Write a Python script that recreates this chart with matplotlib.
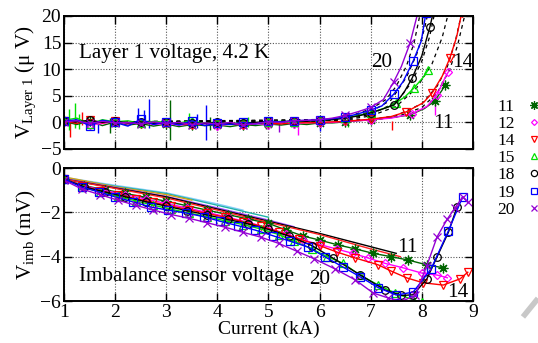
import numpy as np
import matplotlib
matplotlib.use("Agg")
import matplotlib.pyplot as plt
from matplotlib.lines import Line2D

plt.rcParams["font.family"] = ["Liberation Serif", "DejaVu Serif"]
plt.rcParams["mathtext.fontset"] = "custom"
plt.rcParams["mathtext.rm"] = "Liberation Serif"
plt.rcParams["mathtext.it"] = "Liberation Serif:italic"

# ---- series styles (legend order) ----
names = ["11", "12", "14", "15", "18", "19", "20"]
colors = ["#006400", "#ff00ff", "#ff0000", "#00e000", "#000000", "#0000ff", "#9400d3"]
markers = [(8, 2, 0), "D", "v", "^", "o", "s", "x"]
msizes = [7, 4, 5.5, 5.5, 5.5, 6, 5.5]

# ---- top panel: layer 1 voltage (uV) ----
i_flat = [1.0, 1.25, 1.5, 1.75, 2.0, 2.25, 2.5, 2.75, 3.0, 3.25, 3.5,
          3.75, 4.0, 4.25, 4.5, 4.75, 5.0, 5.25, 5.5, 5.75, 6.0]
v_flat = {
    "11": [0.2, -0.4, 0.3, -0.6, 0.1, -0.5, -0.2, -0.7, -0.3, -0.8, -0.4,
           -0.6, -0.5, -0.8, -0.4, -0.6, -0.3, -0.5, -0.2, -0.4, -0.1],
    "12": [0.0, 0.3, -0.5, -0.2, 0.2, -0.3, 0.1, -0.4, -0.2, -0.5, -0.3,
           -0.2, -0.6, -0.3, -0.5, -0.2, -0.4, -0.1, -0.3, 0.0, -0.1],
    "14": [0.3, -0.2, 0.5, -0.1, 0.2, 0.0, -0.3, 0.1, -0.2, -0.1, -0.4,
           -0.2, -0.3, -0.1, -0.4, -0.2, -0.1, -0.3, 0.0, -0.1, 0.0],
    "15": [0.4, 0.8, -0.3, 0.5, 0.1, 0.3, -0.2, 0.2, 0.0, -0.1, 0.3,
           -0.2, 0.1, -0.3, 0.0, -0.2, 0.1, 0.2, 0.0, 0.3, 0.4],
    "18": [0.3, 0.1, 0.4, 0.0, 0.2, -0.1, 0.1, -0.2, 0.0, -0.3, -0.1,
           -0.2, 0.0, -0.3, -0.1, 0.0, 0.2, 0.1, 0.3, 0.2, 0.4],
    "19": [0.2, 0.5, -0.6, 0.4, 0.0, -0.7, 0.6, -0.4, 0.1, -0.5, 0.3,
           -0.6, -0.2, -0.4, 0.0, -0.3, 0.2, 0.1, 0.3, 0.4, 0.5],
    "20": [0.1, 0.3, -0.2, 0.2, -0.1, 0.0, -0.3, 0.1, -0.2, 0.0, -0.4,
           -0.1, -0.3, 0.0, -0.5, -0.2, 0.1, 0.0, 0.3, 0.4, 0.5],
}
i_rise = {
    "11": [6.25, 6.5, 6.75, 7.0, 7.4, 7.77, 8.05, 8.25, 8.4, 8.45],
    "12": [6.25, 6.5, 6.75, 7.0, 7.4, 7.8, 8.1, 8.3, 8.46, 8.52],
    "14": [6.25, 6.5, 6.75, 7.0, 7.4, 7.7, 8.03, 8.2, 8.4, 8.55, 8.68, 8.78],
    "15": [6.25, 6.5, 6.75, 7.0, 7.34, 7.5, 7.67, 7.85, 8.03, 8.12],
    "18": [6.25, 6.5, 6.75, 7.0, 7.2, 7.46, 7.65, 7.81, 8.0, 8.16, 8.22],
    "19": [6.25, 6.5, 6.75, 7.0, 7.22, 7.45, 7.63, 7.83, 7.99, 8.08],
    "20": [6.25, 6.5, 6.75, 7.0, 7.25, 7.45, 7.6, 7.77, 7.92],
}
v_rise = {
    "11": [-0.1, 0.1, 0.3, 0.5, 0.9, 1.4, 2.6, 4.0, 6.1, 7.0],
    "12": [0.0, 0.2, 0.3, 0.5, 0.8, 1.6, 3.0, 5.2, 8.5, 9.5],
    "14": [0.1, 0.2, 0.4, 0.6, 1.1, 2.0, 3.7, 5.5, 8.7, 12.1, 16.0, 20.5],
    "15": [0.6, 0.9, 1.3, 1.8, 2.9, 3.7, 4.8, 6.5, 8.5, 9.8],
    "18": [0.5, 0.8, 1.2, 1.8, 2.4, 3.3, 5.6, 8.3, 12.5, 18.0, 20.5],
    "19": [0.7, 1.0, 1.6, 2.3, 3.1, 5.3, 7.6, 11.5, 15.3, 20.5],
    "20": [0.8, 1.3, 2.0, 2.8, 4.3, 7.6, 10.5, 14.9, 20.5],
}
# voltage spikes: (current, low, high)
spikes = {
    "15": [(1.1, -1.5, 2.5), (1.22, -1.0, 3.7), (1.3, -1.2, 1.5), (3.45, -1.0, 1.8),
           (4.6, -0.8, 1.0), (6.55, -0.8, 1.5)],
    "14": [(1.12, -2.8, 0.3), (1.35, -0.5, 2.0), (7.42, -1.5, 0.2)],
    "19": [(1.67, -2.0, 0.3), (2.45, -0.5, 2.7), (2.57, -0.3, 2.4), (2.66, -1.0, 4.4),
           (3.6, -1.0, 1.5), (3.78, -3.3, 3.3), (6.0, -1.6, 0.4)],
    "11": [(1.9, -2.0, 0.8), (3.07, -3.3, 4.2), (3.85, -1.5, 1.0), (4.95, -1.2, 0.6)],
    "12": [(5.58, -2.3, 0.0), (8.26, 1.3, 3.5)],
    "20": [(5.2, -1.8, 0.0)],
}
# dashed fits
fit_i = [
    [1.0, 6.0, 6.5, 7.0, 7.3, 7.5, 7.7, 7.85, 7.97],
    [1.0, 6.0, 6.5, 7.0, 7.4, 7.7, 7.9, 8.05, 8.12],
    [1.0, 6.5, 7.0, 7.5, 7.8, 8.0, 8.15, 8.25],
    [1.0, 6.5, 7.0, 7.5, 7.9, 8.2, 8.4, 8.52],
    [1.0, 7.0, 7.5, 8.0, 8.3, 8.5, 8.65, 8.78],
    [1.0, 7.0, 7.5, 8.0, 8.3, 8.55, 8.7, 8.85],
]
fit_v = [
    [0.0, 0.2, 0.9, 2.5, 4.3, 6.8, 10.6, 15.0, 20.5],
    [0.0, 0.2, 0.8, 2.0, 4.2, 8.5, 12.8, 17.5, 20.5],
    [0.0, 0.6, 1.5, 3.8, 7.5, 11.5, 16.0, 20.5],
    [0.0, 0.5, 1.2, 3.0, 6.5, 11.0, 16.0, 20.5],
    [0.0, 0.5, 1.3, 3.5, 6.8, 10.5, 15.0, 20.5],
    [0.0, 0.4, 1.0, 2.8, 5.5, 10.0, 14.5, 20.5],
]

# ---- bottom panel: imbalance voltage (mV) ----
i_imb = {
    "11": [1.0, 1.4, 1.8, 2.2, 2.6, 3.0, 3.4, 3.8, 4.2, 4.6, 5.0, 5.35, 5.68,
           6.0, 6.36, 6.7, 7.05, 7.4, 7.73, 8.1, 8.42],
    "12": [1.0, 1.4, 1.8, 2.2, 2.6, 3.0, 3.4, 3.8, 4.2, 4.6, 5.0, 5.35, 5.68,
           6.0, 6.34, 6.65, 6.95, 7.28, 7.63, 8.0, 8.3, 8.5],
    "14": [1.0, 1.35, 1.7, 2.05, 2.4, 2.75, 3.1, 3.45, 3.8, 4.15, 4.5, 4.85,
           5.2, 5.6, 6.0, 6.35, 6.7, 7.15, 7.4, 7.71, 8.03, 8.42, 8.75, 8.9],
    "15": [1.0, 1.35, 1.7, 2.05, 2.4, 2.75, 3.1, 3.45, 3.8, 4.15, 4.5, 4.85,
           5.2, 5.5, 5.85, 6.15, 6.46, 6.79, 7.15, 7.48, 7.83, 8.0],
    "18": [1.0, 1.4, 1.8, 2.2, 2.6, 3.0, 3.4, 3.8, 4.2, 4.6, 5.0, 5.4, 5.85,
           6.26, 6.8, 7.28, 7.6, 7.83, 8.1, 8.3, 8.52, 8.69],
    "19": [1.0, 1.35, 1.68, 2.0, 2.35, 2.7, 3.03, 3.39, 3.74, 4.05, 4.4, 4.74,
           5.08, 5.42, 5.77, 6.1, 6.46, 6.79, 7.15, 7.5, 7.83, 8.18, 8.52, 8.8],
    "20": [1.0, 1.35, 1.7, 2.05, 2.4, 2.75, 3.1, 3.45, 3.8, 4.15, 4.5, 4.85,
           5.2, 5.55, 5.9, 6.3, 6.7, 7.05, 7.34, 7.6, 7.87, 8.1, 8.3, 8.5,
           8.65, 8.8, 8.9],
}
v_imb = {
    "11": [-0.5, -0.8, -0.98, -1.15, -1.32, -1.5, -1.7, -1.9, -2.1, -2.3, -2.5,
           -2.8, -3.07, -3.25, -3.47, -3.65, -3.85, -4.0, -4.15, -4.37, -4.5],
    "12": [-0.5, -0.82, -1.02, -1.2, -1.4, -1.6, -1.8, -2.0, -2.22, -2.45, -2.7,
           -2.98, -3.25, -3.45, -3.66, -3.85, -4.06, -4.3, -4.5, -4.74, -4.83, -4.95],
    "14": [-0.5, -0.8, -1.02, -1.2, -1.38, -1.55, -1.72, -1.88, -2.05, -2.22,
           -2.42, -2.62, -2.88, -3.2, -3.5, -3.8, -4.06, -4.37, -4.65, -4.96,
           -5.18, -5.28, -5.0, -4.7],
    "15": [-0.5, -0.85, -1.08, -1.28, -1.48, -1.68, -1.86, -2.03, -2.2, -2.38,
           -2.55, -2.75, -3.0, -3.3, -3.65, -4.0, -4.3, -4.83, -5.28, -5.64,
           -5.95, -6.05],
    "18": [-0.5, -0.86, -1.08, -1.3, -1.52, -1.72, -1.92, -2.12, -2.32, -2.52,
           -2.77, -3.07, -3.5, -4.06, -4.83, -5.5, -5.75, -5.72, -5.0, -4.0,
           -2.9, -1.76],
    "19": [-0.5, -0.86, -1.08, -1.3, -1.53, -1.76, -1.9, -2.03, -2.2, -2.4,
           -2.6, -2.8, -3.05, -3.3, -3.56, -4.0, -4.47, -4.9, -5.4, -5.73,
           -5.6, -4.56, -2.84, -1.3],
    "20": [-0.55, -0.95, -1.2, -1.45, -1.68, -1.9, -2.1, -2.27, -2.47, -2.67,
           -2.9, -3.12, -3.4, -3.75, -4.1, -4.55, -5.05, -5.64, -5.86, -6.02,
           -5.75, -4.4, -3.1, -2.3, -1.8, -1.3, -1.55],
}
# extra channels drawn without markers
extra_colors = ["#87cefa", "#20b2aa", "#d4a017", "#a040ff", "#000000", "#ff2020"]
extra_i = [
    [1.0, 2.0, 3.0, 4.0, 4.5],
    [1.0, 2.0, 3.0, 4.0, 5.0],
    [1.0, 2.0, 3.0, 3.5],
    [1.0, 2.0, 3.0, 4.0, 5.0, 5.5],
    [1.0, 2.0, 3.0, 4.0, 5.0, 6.0, 7.0, 7.5],
    [1.0, 2.0, 3.0, 4.0, 5.0, 6.0, 7.0, 7.58],
]
extra_v = [
    [-0.42, -0.78, -1.12, -1.62, -1.9],
    [-0.45, -0.82, -1.15, -1.68, -2.22],
    [-0.4, -0.85, -1.2, -1.45],
    [-0.48, -0.88, -1.28, -1.8, -2.35, -2.65],
    [-0.5, -0.9, -1.3, -1.85, -2.4, -2.95, -3.55, -3.85],
    [-0.5, -0.92, -1.35, -1.9, -2.45, -3.0, -3.65, -4.0],
]

fig = plt.figure(figsize=(5.38, 3.43), dpi=100)
ax1 = fig.add_axes([0.119, 0.5656, 0.76, 0.3878])
ax2 = fig.add_axes([0.119, 0.1224, 0.76, 0.3878])

fs = 14
fs_note = 15.2
for ax in (ax1, ax2):
    ax.set_xlim(1, 9)
    ax.set_xticks(range(1, 10))
    ax.grid(True, color="#555555", linestyle=(0, (1, 1.5)), linewidth=0.8)
    ax.tick_params(direction="in", length=6, width=1, top=True, right=True,
                   labelsize=fs, pad=2)
    for s in ax.spines.values():
        s.set_linewidth(1.4)

# top panel
for k, n in enumerate(names):
    for (xi, lo, hi) in spikes.get(n, []):
        ax1.vlines(xi, lo, hi, color=colors[k], lw=1.0)
for xs, ys in zip(fit_i, fit_v):
    ax1.plot(xs, ys, color="black", lw=0.9, ls=(0, (3, 3)))
for k, n in enumerate(names):
    xs = i_flat + i_rise[n]
    ys = v_flat[n] + v_rise[n]
    ax1.plot(xs, ys, color=colors[k], lw=1.0, marker=markers[k], ms=msizes[k],
             mfc="none", mew=0.9, markevery=2)
ax1.set_ylim(-5, 20)
ax1.set_yticks([-5, 0, 5, 10, 15, 20])
ax1.tick_params(labelbottom=False)
ax1.text(1.3, 12.9, "Layer 1 voltage, 4.2 K", fontsize=fs_note, va="center")
ax1.text(7.22, 11.2, "20", fontsize=fs_note, va="center", ha="center")
ax1.text(8.81, 11.2, "14", fontsize=fs_note, va="center", ha="center")
ax1.text(8.42, -0.2, "11", fontsize=fs_note, va="center", ha="center")
ax1.set_ylabel(r"V$_{\mathrm{Layer\ 1}}$ ($\mathrm{\mu}$ V)", fontsize=fs_note, labelpad=2)

# bottom panel
for c, xs, ys in zip(extra_colors, extra_i, extra_v):
    ax2.plot(xs, ys, color=c, lw=1.0)
for k, n in enumerate(names):
    ax2.plot(i_imb[n], v_imb[n], color=colors[k], lw=1.0, marker=markers[k],
             ms=msizes[k], mfc="none", mew=0.9)
ax2.set_ylim(-6, 0)
ax2.set_yticks([-6, -4, -2, 0])
ax2.text(1.3, -4.9, "Imbalance sensor voltage", fontsize=fs_note, va="center")
ax2.text(7.71, -3.6, "11", fontsize=fs_note, va="center", ha="center")
ax2.text(6.0, -5.05, "20", fontsize=fs_note, va="center", ha="center")
ax2.text(8.71, -5.6, "14", fontsize=fs_note, va="center", ha="center")
ax2.set_ylabel(r"V$_{\mathrm{imb}}$ (mV)", fontsize=fs_note, labelpad=2)
ax2.set_xlabel("Current (kA)", fontsize=fs, labelpad=0)

# legend: label then marker
handles = [Line2D([], [], ls="", color=colors[k], marker=markers[k], ms=msizes[k] - 1,
                  mfc="none", mew=0.9) for k in range(len(names))]
fig.legend(handles, names, loc="upper left", bbox_to_anchor=(0.908, 0.738),
           frameon=False, markerfirst=False, fontsize=12.5, labelspacing=0.06,
           handlelength=1.0, handletextpad=0.6, borderpad=0)

# grey stroke in the corner
fig.add_artist(Line2D([0.972, 1.0], [0.076, 0.13], transform=fig.transFigure,
                      color="#c8c8c8", lw=4, solid_capstyle="butt"))

fig.savefig("out.png", dpi=100)
